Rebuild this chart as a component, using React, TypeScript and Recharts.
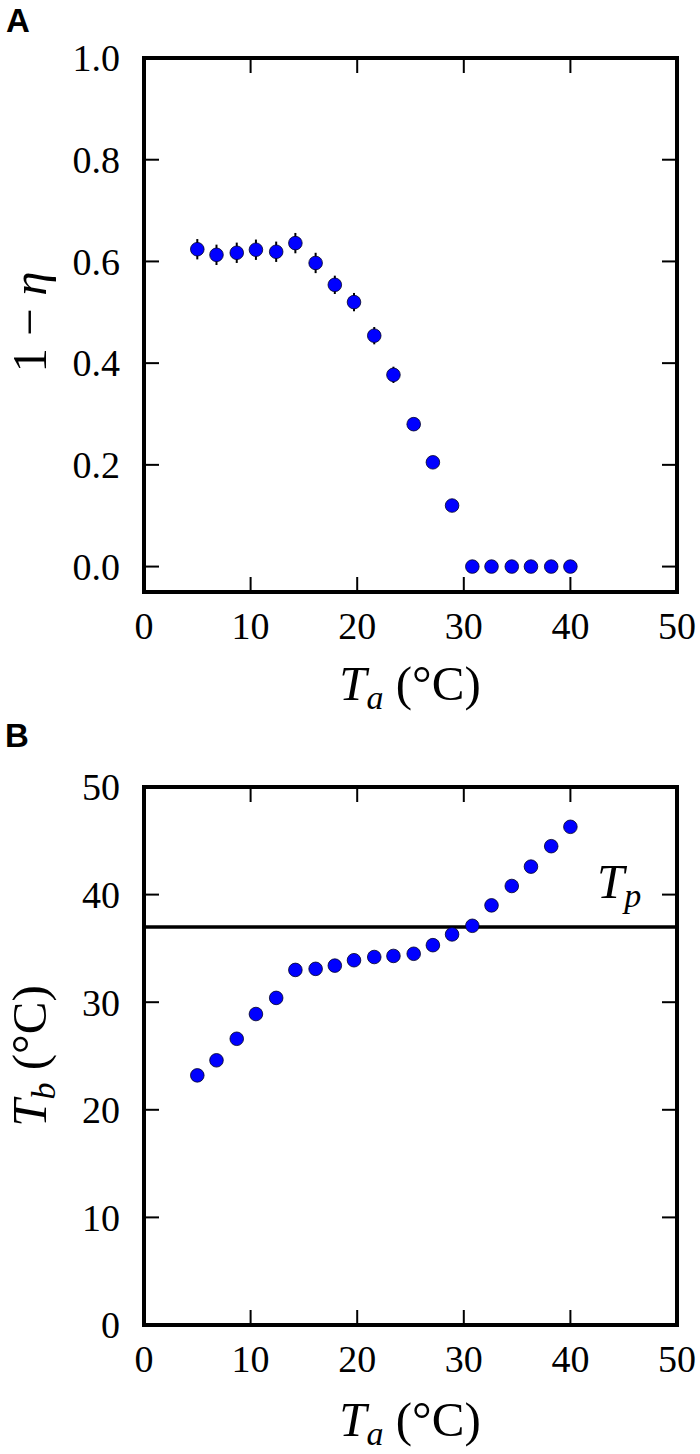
import { ScatterChart, Scatter, XAxis, YAxis, ErrorBar, ReferenceLine, Label } from "recharts";

// ambient temperature (shared by both panels)
const ta = [5.0, 6.8, 8.7, 10.5, 12.4, 14.2, 16.1, 17.9, 19.7, 21.6, 23.4, 25.3, 27.1, 28.9, 30.8, 32.6, 34.5, 36.3, 38.2, 40.0];
// panel A: 1 - eta and its error
const oneMinusEta = [0.624, 0.613, 0.617, 0.623, 0.619, 0.636, 0.597, 0.554, 0.52, 0.454, 0.377, 0.28, 0.205, 0.12, 0, 0, 0, 0, 0, 0];
const etaErr = [0.02, 0.02, 0.02, 0.02, 0.02, 0.02, 0.02, 0.018, 0.018, 0.017, 0.016, 0.012, 0.01, 0.01, 0.002, 0.002, 0.002, 0.002, 0.002, 0.002];
// panel B: body temperature and its error
const tb = [23.2, 24.6, 26.6, 28.9, 30.4, 33.0, 33.1, 33.4, 33.9, 34.2, 34.3, 34.5, 35.3, 36.3, 37.1, 39.0, 40.8, 42.6, 44.5, 46.3];
const tbErr = [0.15, 0.15, 0.15, 0.15, 0.15, 0.15, 0.15, 0.15, 0.15, 0.15, 0.15, 0.15, 0.15, 0.15, 0.15, 0.15, 0.15, 0.15, 0.15, 0.15];
const tp = 37;

const xDomain = [0, 50];
const xTicks = [0, 10, 20, 30, 40, 50];
const etaTicks = [0, 0.2, 0.4, 0.6, 0.8, 1.0];
const tbTicks = [0, 10, 20, 30, 40, 50];

const dataA = ta.map((x, i) => ({ x, y: oneMinusEta[i], err: etaErr[i] }));
const dataB = ta.map((x, i) => ({ x, y: tb[i], err: tbErr[i] }));

const SERIF = "'Liberation Serif', 'DejaVu Serif', serif";
const SANS = "'Liberation Sans', Arial, sans-serif";
const TICK_FS = 38;
const TITLE_FS = 49;
const SUB_FS = 34;
const TICK_LEN = 15;

// plot box (same for both panels, in chart coordinates)
const PLOT_L = 144;
const PLOT_R = 677;
const XAXIS_H = 60;
const YAXIS_W = 100;

const dot = (p: any) => (
  <circle cx={p.cx} cy={p.cy} r={6.8} fill="#0000ff" stroke="#000022" strokeWidth={0.8} />
);
const noDot = () => <g />;

// frame and inward ticks on all four sides, drawn in data space
const frameAndTicks = (yDomain: number[], yTicks: number[], plotH: number) => {
  const [x0, x1] = xDomain;
  const [y0, y1] = yDomain;
  const dx = (TICK_LEN * (x1 - x0)) / (PLOT_R - PLOT_L);
  const dy = (TICK_LEN * (y1 - y0)) / plotH;
  const tick = { stroke: "#000", strokeWidth: 2, ifOverflow: "visible" as const };
  const edge = { stroke: "#000", strokeWidth: 4, strokeLinecap: "square" as const, ifOverflow: "visible" as const };
  const out: any[] = [];
  xTicks
    .filter((v) => v > x0 && v < x1)
    .forEach((v) => {
      out.push(<ReferenceLine key={`xb${v}`} segment={[{ x: v, y: y0 }, { x: v, y: y0 + dy }]} {...tick} />);
      out.push(<ReferenceLine key={`xt${v}`} segment={[{ x: v, y: y1 }, { x: v, y: y1 - dy }]} {...tick} />);
    });
  yTicks
    .filter((v) => v > y0 && v < y1)
    .forEach((v) => {
      out.push(<ReferenceLine key={`yl${v}`} segment={[{ x: x0, y: v }, { x: x0 + dx, y: v }]} {...tick} />);
      out.push(<ReferenceLine key={`yr${v}`} segment={[{ x: x1, y: v }, { x: x1 - dx, y: v }]} {...tick} />);
    });
  out.push(<ReferenceLine key="fl" x={x0} {...edge} />);
  out.push(<ReferenceLine key="fr" x={x1} {...edge} />);
  out.push(<ReferenceLine key="fb" y={y0} {...edge} />);
  out.push(<ReferenceLine key="ft" y={y1} {...edge} />);
  return out;
};

const Panel = ({ data, yDomain, yTicks, yFmt, height, top, bottom, children }: any) => {
  const plotBottom = height - bottom - XAXIS_H;
  const bottomTick = (p: any) => (
    <text x={p.x} y={plotBottom + 47} textAnchor="middle" fontFamily={SERIF} fontSize={TICK_FS} fill="#000">
      {p.payload.value}
    </text>
  );
  const leftTick = (p: any) => (
    <text x={PLOT_L - 24} y={p.y} dy="0.35em" textAnchor="end" fontFamily={SERIF} fontSize={TICK_FS} fill="#000">
      {yFmt(p.payload.value)}
    </text>
  );
  return (
    <ScatterChart
      width={700}
      height={height}
      margin={{ top: top, right: 700 - PLOT_R, bottom: bottom, left: PLOT_L - YAXIS_W }}
    >
      <XAxis
        type="number"
        dataKey="x"
        domain={xDomain}
        ticks={xTicks}
        interval={0}
        height={XAXIS_H}
        axisLine={false}
        tickLine={false}
        tickSize={0}
        tick={bottomTick}
      />
      <YAxis
        type="number"
        dataKey="y"
        domain={yDomain}
        ticks={yTicks}
        interval={0}
        width={YAXIS_W}
        axisLine={false}
        tickLine={false}
        tickSize={0}
        tick={leftTick}
      />
      {frameAndTicks(yDomain, yTicks, plotBottom - top)}
      {children}
      <Scatter data={data} shape={dot} isAnimationActive={false} />
      <Scatter data={data} shape={noDot} isAnimationActive={false}>
        <ErrorBar dataKey="err" direction="y" width={0} stroke="#000" strokeWidth={2} />
      </Scatter>
    </ScatterChart>
  );
};

const xTitle = (x: number, y: number) => (
  <text x={x} y={y} textAnchor="middle" fontFamily={SERIF} fontSize={TITLE_FS} fill="#000">
    <tspan fontStyle="italic">T</tspan>
    <tspan fontStyle="italic" fontSize={SUB_FS} dy={9}>a</tspan>
    <tspan dy={-9}>{"\u00a0(°C)"}</tspan>
  </text>
);

const tpLabel = (props: any) => {
  const vb = props.viewBox || {};
  const right = (vb.x ?? PLOT_L) + (vb.width ?? PLOT_R - PLOT_L);
  const y = vb.y ?? 196;
  return (
    <text x={right - 80} y={y - 29} fontFamily={SERIF} fontSize={TITLE_FS} fill="#000">
      <tspan fontStyle="italic">T</tspan>
      <tspan fontStyle="italic" fontSize={SUB_FS} dy={9}>p</tspan>
    </text>
  );
};

export default function App() {
  return (
    <div style={{ position: "absolute", left: 0, top: 0, width: 700, height: 1454, background: "#fff" }}>
      <div style={{ position: "absolute", left: 0, top: 0 }}>
        <Panel
          data={dataA}
          yDomain={[-0.05, 1.0]}
          yTicks={etaTicks}
          yFmt={(v: number) => v.toFixed(1)}
          height={730}
          top={58}
          bottom={78}
        />
      </div>
      <div style={{ position: "absolute", left: 0, top: 730 }}>
        <Panel
          data={dataB}
          yDomain={[0, 50]}
          yTicks={tbTicks}
          yFmt={(v: number) => String(v)}
          height={724}
          top={57}
          bottom={69}
        >
          <ReferenceLine y={tp} stroke="#000" strokeWidth={3.5} ifOverflow="visible">
            <Label content={tpLabel} />
          </ReferenceLine>
        </Panel>
      </div>
      <svg
        width={700}
        height={1454}
        style={{ position: "absolute", left: 0, top: 0, pointerEvents: "none" }}
      >
        <text x={6} y={32} fontFamily={SANS} fontWeight="bold" fontSize={33} fill="#000">A</text>
        <text x={5} y={747} fontFamily={SANS} fontWeight="bold" fontSize={33} fill="#000">B</text>
        {xTitle(410, 700)}
        {xTitle(410, 1436)}
        <text
          transform="translate(46, 322) rotate(-90)"
          textAnchor="middle"
          fontFamily={SERIF}
          fontSize={TITLE_FS}
          fill="#000"
        >
          {"1\u00a0\u2212\u00a0"}
          <tspan fontStyle="italic">η</tspan>
        </text>
        <text
          transform="translate(46, 1056) rotate(-90)"
          textAnchor="middle"
          fontFamily={SERIF}
          fontSize={TITLE_FS}
          fill="#000"
        >
          <tspan fontStyle="italic">T</tspan>
          <tspan fontStyle="italic" fontSize={SUB_FS} dy={9}>b</tspan>
          <tspan dy={-9}>{"\u00a0(°C)"}</tspan>
        </text>
      </svg>
    </div>
  );
}
